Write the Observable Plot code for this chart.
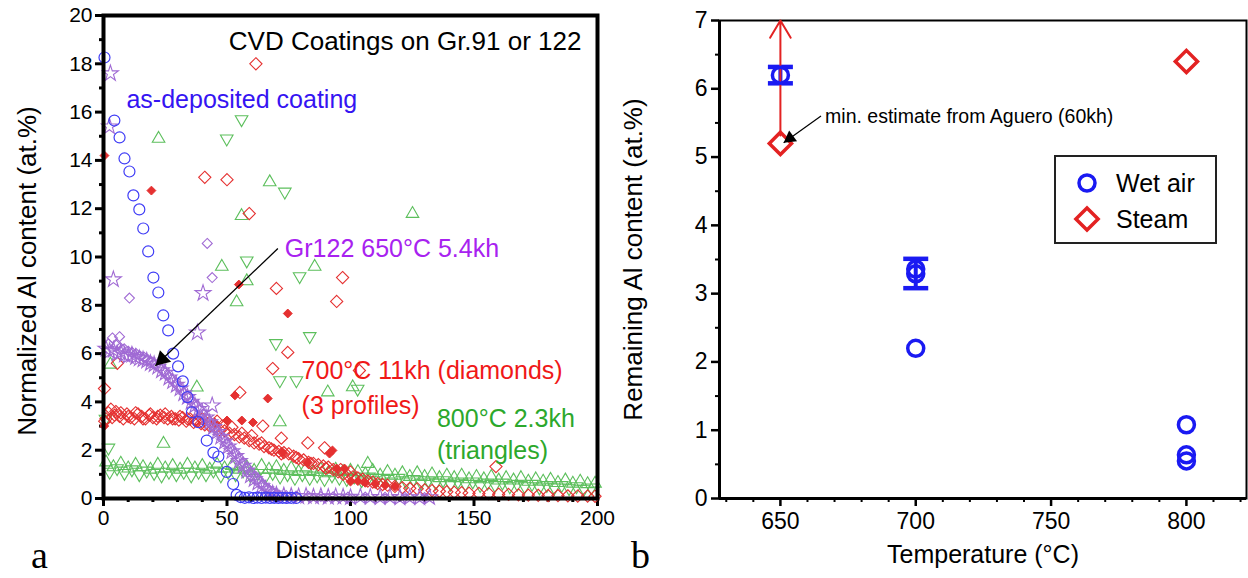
<!DOCTYPE html>
<html><head><meta charset="utf-8">
<script src="https://cdn.jsdelivr.net/npm/d3@7"></script>
<script src="https://cdn.jsdelivr.net/npm/@observablehq/plot@0.6"></script>
<style>
body{margin:0;background:#fff;}
#wrap{position:relative;width:1248px;height:578px;overflow:hidden;font-family:"Liberation Sans",Arial,Helvetica,sans-serif;}
#wrap svg.pa, #wrap svg.pb{position:absolute;top:0;}
.panel-letter{position:absolute;font-family:"Liberation Serif","Times New Roman",serif;font-size:38px;line-height:38px;color:#000;}
#legend{position:absolute;left:1054px;top:155px;width:163px;height:89px;box-sizing:border-box;border:2px solid #222;background:#fff;}
#legend .row{position:absolute;left:0;height:30px;display:flex;align-items:center;}
#legend .row span{font-size:25px;margin-left:14px;color:#000;}
</style></head><body><div id="wrap"></div>
<script>
// ---------------- Panel a data: [distance µm, Al at.%] ----------------
const aXTicks = [0, 50, 100, 150, 200];
const aXMinor = [10, 20, 30, 40, 60, 70, 80, 90, 110, 120, 130, 140, 160, 170, 180, 190];
const aYTicks = [0, 2, 4, 6, 8, 10, 12, 14, 16, 18, 20];
const aYMinor = [1, 3, 5, 7, 9, 11, 13, 15, 17, 19];

const asDeposited = [
[0.4,18.26],[4.4,15.65],[6.5,14.95],[8.5,14.08],[10.5,13.54],[12.1,12.55],[14.5,11.97],[16.1,11.18],[18.1,10.23],[20.2,9.15],
[22.2,8.53],[24.2,7.58],[26.2,6.96],[28.2,6.0],[30.2,5.47],[32.1,4.85],[34.0,4.2],[35.8,3.57],[38.4,3.16],[41.8,2.4],
[44.5,1.9],[46.5,1.74],[49.9,1.1],[52.5,0.6],[53.9,0.15],[55.5,0.06],[57.2,0.03],[58.9,0.05],[60.6,0.02],[62.3,0.04],
[64.0,0.02],[65.7,0.04],[67.4,0.02],[69.1,0.03],[70.8,0.02],[72.5,0.03],[74.2,0.02],[76,0.03],[78,0.02]
];

const gr122Stars = [
[1.0,6.2],[2.5,6.1],[4.0,6.15],[5.5,6.0],[7.0,6.05],[8.5,5.95],[10.0,5.9],[11.5,5.95],[13.0,5.85],[14.5,5.8],
[16.0,5.75],[17.5,5.7],[19.0,5.6],[20.5,5.55],[22.0,5.45],[23.5,5.3],[25.0,5.2],[26.5,5.0],[28.0,4.85],[29.5,4.7],
[31.0,4.55],[32.5,4.35],[34.0,4.2],[35.5,4.0],[37.0,3.85],[38.5,3.7],[40.0,3.55],[41.5,3.35],[43.0,3.15],[44.5,2.95],
[46.0,2.75],[47.5,2.55],[49.0,2.35],[50.5,2.15],[52.0,1.95],[53.5,1.75],[55.0,1.55],[56.5,1.35],[58.0,1.15],[59.5,0.95],
[61.0,0.8],[62.5,0.65],[64.0,0.5],[65.5,0.38],[67.0,0.28],[68.5,0.2],[70.0,0.15],
[73,0.12],[76,0.1],[79,0.08],[82,0.1],[85,0.07],[88,0.09],[91,0.06],[94,0.08],[97,0.07],[100,0.05],
[104,0.07],[108,0.06],[112,0.05],[116,0.06],[120,0.04],[124,0.05],[128,0.04],[132,0.05],
[2.8,17.6],[2.4,15.4],[4.0,9.07],[40.3,8.5],[38.0,6.87],[44.0,3.85]
];

const gr122Diamonds = [
[2.0,6.4],[3.6,6.65],[5.2,6.35],[6.8,6.25],[8.4,6.2],[10.0,6.1],[11.6,6.05],[13.2,6.0],[14.8,5.9],[16.4,5.85],
[18.0,5.75],[19.6,5.65],[21.2,5.55],[22.8,5.4],[24.4,5.25],[26.0,5.1],[27.6,4.95],[29.2,4.75],[30.8,4.6],[32.4,4.4],
[34.0,4.25],[35.6,4.05],[37.2,3.9],[38.8,3.7],[40.4,3.5],[42.0,3.3],[43.6,3.1],[45.2,2.9],[46.8,2.7],[48.4,2.5],
[50.0,2.3],[51.6,2.1],[53.2,1.9],[54.8,1.7],[56.4,1.5],[58.0,1.3],[59.6,1.1],[61.2,0.95],[62.8,0.8],[64.4,0.6],
[66.0,0.45],[67.6,0.32],[69.2,0.22],[71,0.15],[74,0.12],[78,0.1],[83,0.09],[88,0.08],[93,0.07],[99,0.06],
[106,0.06],[114,0.05],[122,0.05],[130,0.04],
[10.5,8.3],[42.0,10.56],[44.0,9.15],[6.5,6.7]
];

const red700Open = [
[0.5,3.2],[2,3.55],[3.5,3.35],[5,3.6],[6.5,3.4],[8,3.3],[9.5,3.5],[11,3.35],[12.5,3.3],[14,3.5],
[15.5,3.4],[17,3.3],[18.5,3.45],[20,3.35],[21.5,3.3],[23,3.45],[24.5,3.35],[26,3.3],[27.5,3.4],[29,3.3],
[30.5,3.25],[32,3.35],[33.5,3.2],[35,3.3],[36.5,3.15],[38,3.2],[39.5,3.1],[41,3.05],[43,3.0],[45,2.95],
[47,2.85],[49,2.8],[51,2.7],[53,2.65],[55,2.55],[57,2.5],[59,2.4],[61,2.3],[63,2.25],[65,2.15],
[67,2.1],[69,2.0],[71,1.95],[73,1.9],[75,1.85],[77,1.75],[79,1.65],[81,1.6],[83,1.5],[85,1.45],
[87,1.4],[89,1.35],[91,1.3],[93,1.2],[95,1.1],[97,1.0],[99,0.95],[101,0.9],[103,0.85],[105,0.8],
[107,0.72],[109,0.68],[111,0.62],[113,0.58],[115,0.55],[118,0.5],[121,0.45],[124,0.42],[127,0.4],[130,0.36],
[133,0.33],[136,0.3],[139,0.28],[142,0.26],[145,0.24],[148,0.22],[152,0.21],[156,0.2],[160,0.18],[164,0.17],
[168,0.15],[172,0.14],[176,0.13],[180,0.12],[184,0.12],[188,0.11],[192,0.1],[196,0.1],[199,0.09],
[1,3.3],[3,3.7],[4.5,3.45],[7,3.55],[10,3.4],[13,3.55],[16,3.3],[19,3.5],[22,3.4],[25,3.5],
[28,3.3],[31,3.4],[34,3.3],[37,3.25],[40,3.3],[43,3.15],[46,3.2],[48,3.0],[52,2.95],[56,2.7],
[60,2.6],[64,2.3],[68,2.05],[72,1.85],[78,1.7],[84,1.45],[90,1.25],[96,1.2],[100,1.1],
[41,13.3],[50,13.2],[61.7,18.0],[59,11.8],[96.8,9.15],[94.4,8.16],[70,8.7],[74.6,6.05],[68.5,5.38],[55.2,4.39],
[64.5,3.0],[72,2.5],[82.7,2.3],[89.5,2.1],[103.6,5.3],[158.9,1.32],[0.4,4.55],[5.6,5.6]
];

const red700Filled = [
[0.4,14.2],[19.4,12.75],[54.8,8.86],[74.6,7.66],[66.5,4.14],[53.2,4.27],[45,3.15],[50,3.23],[56,3.23],[60.5,3.15],
[72.6,1.9],[82.7,1.49],[91.5,1.86],[94.4,1.24],[97.6,1.24],[92.7,1.99],[0.3,3.0],
[100,0.7],[103,0.72],[106,0.65],[110,0.6],[114,0.55],[118,0.5]
];

const green800Up = [
[1,1.5],[4,1.3],[7,1.45],[10,1.25],[13,1.4],[16,1.3],[19,1.2],[22,1.4],[25,1.25],[28,1.35],
[31,1.2],[34,1.4],[37,1.25],[40,1.35],[43,1.2],[46,1.4],[49,1.25],[52,1.35],[55,1.2],[58,1.3],
[61,1.15],[64,1.35],[67,1.2],[70,1.3],[73,1.15],[76,1.25],[79,1.1],[82,1.25],[85,1.1],[88,1.2],
[91,1.05],[94,1.2],[97,1.1],[100,1.15],[103,1.1],[106,1.0],[109,1.15],[112,0.95],[115,1.1],[118,0.95],
[121,1.05],[124,0.9],[127,1.05],[130,0.9],[133,1.0],[136,0.85],[139,0.95],[142,0.85],[145,0.95],[148,0.8],
[151,0.9],[154,0.8],[157,0.9],[160,0.75],[163,0.85],[166,0.75],[169,0.85],[172,0.7],[175,0.8],[178,0.7],
[181,0.78],[184,0.65],[187,0.75],[190,0.62],[193,0.7],[196,0.6],[199,0.62],
[22.3,14.9],[67.3,13.1],[55.9,11.7],[47.9,9.6],[58,9.0],[85.5,9.6],[53.9,8.13],[125.1,11.79],[37.8,4.6],[24.3,2.27],
[71.4,3.16],[90.8,4.4],[2.8,5.55],[100.9,4.61],[107,1.44]
];

const green800Down = [
[2.5,1.1],[5.5,1.25],[8.5,1.05],[11.5,1.2],[14.5,1.0],[17.5,1.15],[20.5,1.05],[23.5,0.95],[26.5,1.1],[29.5,1.0],
[32.5,1.1],[35.5,0.95],[38.5,1.1],[41.5,1.0],[44.5,1.15],[47.5,0.95],[50.5,1.1],[53.5,1.0],[56.5,1.15],[59.5,0.95],
[62.5,1.05],[65.5,0.9],[68.5,1.05],[71.5,0.9],[74.5,1.0],[77.5,0.85],[80.5,1.0],[83.5,0.85],[86.5,0.95],[89.5,0.8],
[92.5,0.95],[95.5,0.85],[98.5,0.8],[101.5,0.9],[104.5,0.75],[107.5,0.9],[110.5,0.75],[113.5,0.85],[116.5,0.7],[119.5,0.85],
[122.5,0.7],[125.5,0.8],[128.5,0.65],[131.5,0.75],[134.5,0.65],[137.5,0.75],[140.5,0.6],[143.5,0.7],[146.5,0.6],[149.5,0.7],
[152.5,0.55],[155.5,0.65],[158.5,0.55],[161.5,0.65],[164.5,0.5],[167.5,0.6],[170.5,0.5],[173.5,0.6],[176.5,0.45],[179.5,0.55],
[182.5,0.45],[185.5,0.55],[188.5,0.42],[191.5,0.5],[194.5,0.4],[197.5,0.45],
[55.9,15.7],[49.9,14.9],[73.4,12.7],[58,9.85],[79.4,9.2],[83.5,6.72],[69.8,6.43],[71.4,4.89],[78.1,4.89],[0.8,3.3],
[2,2.1],[102.9,4.54]
];

const annotationsA = [
  {x: 193.5, y: 18.9, text: "CVD Coatings on Gr.91 or 122", color: "#000000", size: 26},
  {x: 9.3, y: 16.5, text: "as-deposited coating", color: "#3514f2", size: 25},
  {x: 73.4, y: 10.35, text: "Gr122 650°C 5.4kh", color: "#a822f0", size: 25},
  {x: 80.2, y: 5.3, text: "700°C 11kh (diamonds)", color: "#f01818", size: 25},
  {x: 80.2, y: 3.85, text: "(3 profiles)", color: "#f01818", size: 25},
  {x: 135, y: 3.3, text: "800°C 2.3kh", color: "#2ca82c", size: 25},
  {x: 135, y: 1.95, text: "(triangles)", color: "#2ca82c", size: 25}
];
const arrowA = [{x1: 70.6, y1: 10.35, x2: 21.0, y2: 5.5}];

// ---------------- Panel b data: [temperature °C, remaining Al at.%] ----------------
const bXDomain = [627.5, 822.2];
const bXTicks = [650, 700, 750, 800];
const bXMinor = [630, 640, 660, 670, 680, 690, 710, 720, 730, 740, 760, 770, 780, 790, 810, 820];
const bYTicks = [0, 1, 2, 3, 4, 5, 6, 7];
const bYMinor = [0.5, 1.5, 2.5, 3.5, 4.5, 5.5, 6.5];

const wetAir = [[650, 6.2], [700, 3.29], [700, 3.36], [700, 2.2], [800, 1.08], [800, 0.64], [800, 0.55]];
const wetAirErr = [[650, 6.08, 6.32], [700, 3.08, 3.51]];
const steam = [[650, 5.2], [800, 6.4]];
const steamMinArrow = [[650, 5.2, 7]];
const annotationB = [{x: 666.5, y: 5.59, text: "min. estimate from Aguero (60kh)"}];
const arrowB = [{x1: 665, y1: 5.6, x2: 651.2, y2: 5.21}];

// ---------------- styling ----------------
const FONT = "Liberation Sans, Arial, Helvetica, sans-serif";
const cBlueA = "#3f3cf6", cPurpleA = "#a06ad4", cRedA = "#e53030", cGreenA = "#5cbf5c";
const cBlueB = "#1a1af2", cRedB = "#e32222";
const X = d => d[0], Y = d => d[1];
const plain = d => String(d);

const capSymbol = {draw(ctx, size) { const w = Math.sqrt(size / Math.PI); ctx.moveTo(-w, 0); ctx.lineTo(w, 0); }};

const plotA = Plot.plot({
  width: 620, height: 578,
  marginLeft: 103, marginRight: 23, marginTop: 15, marginBottom: 80,
  style: {fontFamily: FONT, fontSize: "21px", background: "none", color: "#000", overflow: "visible"},
  x: {domain: [0, 200]},
  y: {domain: [0, 20]},
  marks: [
    Plot.axisX({ticks: aXMinor, tickSize: 4, tickFormat: () => "", strokeWidth: 3, label: null}),
    Plot.axisX({ticks: aXTicks, tickSize: 8, tickPadding: 4, strokeWidth: 3, label: null, fontSize: 21, tickFormat: plain}),
    Plot.axisY({ticks: aYMinor, tickSize: 4, tickFormat: () => "", strokeWidth: 3, label: null}),
    Plot.axisY({ticks: aYTicks, tickSize: 8, tickPadding: 3, strokeWidth: 3, label: null, fontSize: 21, tickFormat: plain}),
    Plot.dot(green800Down, {x: X, y: Y, symbol: "triangle2", rotate: 180, r: 6, fill: "none", stroke: cGreenA, strokeWidth: 1.1}),
    Plot.dot(green800Up, {x: X, y: Y, symbol: "triangle2", r: 6, fill: "none", stroke: cGreenA, strokeWidth: 1.1}),
    Plot.dot(red700Open, {x: X, y: Y, symbol: "diamond2", r: 5.5, fill: "none", stroke: cRedA, strokeWidth: 1.1}),
    Plot.dot(red700Filled, {x: X, y: Y, symbol: "diamond2", r: 4, fill: cRedA, stroke: cRedA, strokeWidth: 1}),
    Plot.dot(gr122Diamonds, {x: X, y: Y, symbol: "diamond2", r: 4.5, fill: "none", stroke: cPurpleA, strokeWidth: 1.1}),
    Plot.dot(gr122Stars, {x: X, y: Y, symbol: "star", r: 5, fill: "none", stroke: cPurpleA, strokeWidth: 1.1}),
    Plot.dot(asDeposited, {x: X, y: Y, symbol: "circle", r: 5.5, fill: "none", stroke: cBlueA, strokeWidth: 1.2}),
    Plot.frame({stroke: "#000", strokeWidth: 4}),
    ...annotationsA.map((a, i) => Plot.text([a], {x: "x", y: "y", text: "text", fill: a.color, fontSize: a.size, textAnchor: i === 0 ? "end" : "start"})),
    Plot.link(arrowA, {x1: "x1", y1: "y1", x2: "x2", y2: "y2", stroke: "#000", strokeWidth: 1.3}),
    Plot.dot(arrowA, {x: "x2", y: "y2", symbol: "triangle", r: 6, fill: "#000", stroke: "none", rotate: 226, dx: 6.8, dy: -6.4}),
    Plot.text(["Normalized Al content (at.%)"], {frameAnchor: "left", dx: -76, dy: 14, rotate: -90, textAnchor: "middle", lineAnchor: "middle", fontSize: 26, text: d => d}),
    Plot.text(["Distance (μm)"], {frameAnchor: "bottom", dy: 52, textAnchor: "middle", lineAnchor: "middle", fontSize: 24, text: d => d})
  ]
});
plotA.classList.add("pa");
plotA.style.left = "0px";

const plotB = Plot.plot({
  width: 628, height: 578,
  marginLeft: 99, marginRight: 2, marginTop: 20, marginBottom: 80,
  style: {fontFamily: FONT, fontSize: "23px", background: "none", color: "#000", overflow: "visible"},
  x: {domain: bXDomain},
  y: {domain: [0, 7]},
  marks: [
    Plot.frame({stroke: "#000", strokeWidth: 2}),
    Plot.ruleX([bXDomain[0]], {stroke: "#000", strokeWidth: 3}),
    Plot.ruleY([0], {stroke: "#000", strokeWidth: 3}),
    Plot.axisX({ticks: bXMinor, tickSize: 4, tickFormat: () => "", strokeWidth: 2, label: null}),
    Plot.axisX({ticks: bXTicks, tickSize: 8, tickPadding: 6, strokeWidth: 2.5, label: null, fontSize: 23, tickFormat: plain}),
    Plot.axisY({ticks: bYMinor, tickSize: 4, tickFormat: () => "", strokeWidth: 2, label: null}),
    Plot.axisY({ticks: bYTicks, tickSize: 8, tickPadding: 4, strokeWidth: 2.5, label: null, fontSize: 23, tickFormat: plain}),
    Plot.ruleX(wetAirErr, {x: d => d[0], y1: d => d[1], y2: d => d[2], stroke: cBlueB, strokeWidth: 4}),
    Plot.dot(wetAirErr, {x: d => d[0], y: d => d[1], symbol: capSymbol, r: 12.5, fill: "none", stroke: cBlueB, strokeWidth: 4.5}),
    Plot.dot(wetAirErr, {x: d => d[0], y: d => d[2], symbol: capSymbol, r: 12.5, fill: "none", stroke: cBlueB, strokeWidth: 4.5}),
    Plot.arrow(steamMinArrow, {x1: d => d[0], y1: d => d[1], x2: d => d[0], y2: d => d[2], stroke: cRedB, strokeWidth: 2, headLength: 15, headAngle: 62, insetStart: 8}),
    Plot.dot(steam, {x: X, y: Y, symbol: "diamond2", r: 10, fill: "none", stroke: cRedB, strokeWidth: 3.5}),
    Plot.dot(wetAir, {x: X, y: Y, symbol: "circle", r: 8, fill: "none", stroke: cBlueB, strokeWidth: 3.5}),
    Plot.text(annotationB, {x: "x", y: "y", text: "text", fontSize: 19.5, textAnchor: "start", fill: "#000"}),
    Plot.link(arrowB, {x1: "x1", y1: "y1", x2: "x2", y2: "y2", stroke: "#000", strokeWidth: 1.2}),
    Plot.dot(arrowB, {x: "x2", y: "y2", symbol: "triangle", r: 5, fill: "#000", stroke: "none", rotate: 234, dx: 6.3, dy: -4.6}),
    Plot.text(["Remaining Al content (at.%)"], {frameAnchor: "left", dx: -86, dy: 0, rotate: -90, textAnchor: "middle", lineAnchor: "middle", fontSize: 26, text: d => d}),
    Plot.text(["Temperature (°C)"], {frameAnchor: "bottom", dy: 56, textAnchor: "middle", lineAnchor: "middle", fontSize: 25, text: d => d})
  ]
});
plotB.classList.add("pb");
plotB.style.left = "620px";

const wrap = document.getElementById("wrap");
wrap.appendChild(plotA);
wrap.appendChild(plotB);

// panel letters
[["a", 31], ["b", 631]].forEach(([t, left]) => {
  const d = document.createElement("div");
  d.className = "panel-letter"; d.textContent = t;
  d.style.left = left + "px"; d.style.top = "536px";
  wrap.appendChild(d);
});

// legend for panel b
const legendItems = [
  {label: "Wet air", symbol: d3.symbolCircle, size: Math.PI * 64, color: cBlueB},
  {label: "Steam", symbol: d3.symbolDiamond2, size: Math.PI * 100, color: cRedB}
];
const leg = document.createElement("div");
leg.id = "legend";
legendItems.forEach((it, i) => {
  const row = document.createElement("div");
  row.className = "row";
  row.style.top = (11 + i * 36) + "px";
  row.style.left = "16px";
  const s = d3.create("svg").attr("width", 30).attr("height", 30);
  s.append("path").attr("transform", "translate(15,15)")
    .attr("d", d3.symbol(it.symbol, it.size)())
    .attr("fill", "none").attr("stroke", it.color).attr("stroke-width", 3.5);
  row.appendChild(s.node());
  const sp = document.createElement("span"); sp.textContent = it.label;
  row.appendChild(sp);
  leg.appendChild(row);
});
wrap.appendChild(leg);
</script>
</body></html>
